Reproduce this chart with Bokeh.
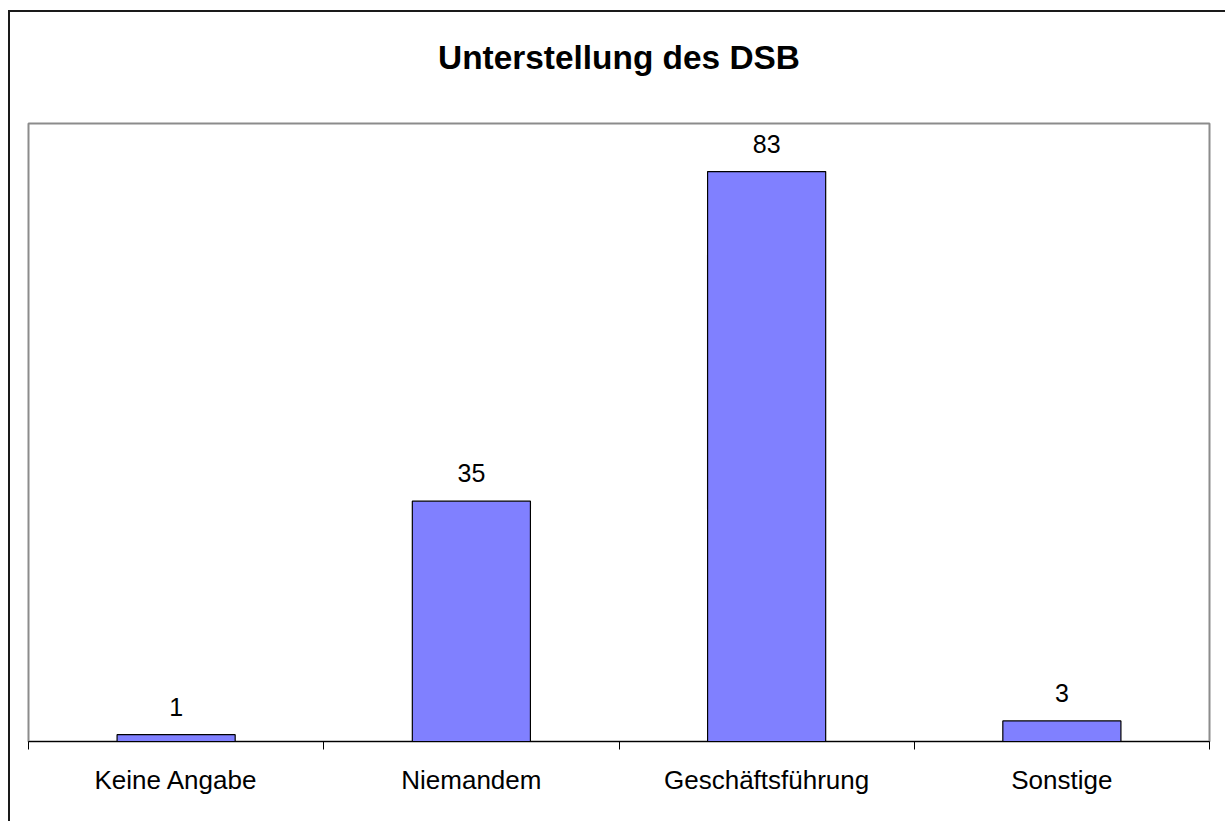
from bokeh.plotting import figure
from bokeh.models import Range1d, FixedTicker, ColumnDataSource, Title
from bokeh.core.properties import value
from bokeh.embed import file_html
from bokeh.resources import INLINE

categories = ["Keine Angabe", "Niemandem", "Geschäftsführung", "Sonstige"]
counts = [1, 35, 83, 3]
title_text = "Unterstellung des DSB"

centers = [i + 0.5 for i in range(len(categories))]
bounds = [float(i) for i in range(len(categories) + 1)]

src = ColumnDataSource(dict(x=centers, top=counts, lab=[str(v) for v in counts]))

p = figure(width=1217, height=811, output_backend="svg", toolbar_location=None,
           x_range=Range1d(0, len(categories)), y_range=Range1d(0, 90),
           y_axis_location=None, min_border_left=18, min_border_right=18,
           min_border_top=111, min_border_bottom=82, title=None)
p.styles = {"border-left": "2px solid #1a1a1a", "border-top": "2px solid #1a1a1a",
            "margin-left": "8px", "margin-top": "10px"}

# spacer between title and plot area
p.add_layout(Title(text=" ", text_font_size="20px", standoff=10), "above")
p.add_layout(Title(text=title_text, align="center", text_font="Liberation Sans",
                   text_font_size="33.4px", text_font_style="bold",
                   text_color="black", standoff=28), "above")

p.xgrid.visible = False
p.ygrid.visible = False
p.background_fill_color = "white"
p.border_fill_color = "white"
p.outline_line_color = "#8c8c8c"
p.outline_line_width = 2

ax = p.xaxis[0]
ax.ticker = FixedTicker(ticks=centers, minor_ticks=bounds)
ax.major_label_overrides = {c: name for c, name in zip(centers, categories)}
ax.major_tick_out = 0
ax.major_tick_in = 0
ax.minor_tick_out = 8
ax.minor_tick_in = 0
ax.minor_tick_line_color = "black"
ax.axis_line_color = "black"
ax.axis_line_width = 1
ax.major_label_text_font = "Liberation Sans"
ax.major_label_text_font_size = "26px"
ax.major_label_text_color = "black"
ax.major_label_standoff = 15

p.vbar(x="x", top="top", bottom=0, width=0.4, source=src,
       fill_color="#8080FF", line_color="black", line_width=1.2)

p.text(x="x", y="top", text="lab", source=src, text_align="center",
       text_baseline="alphabetic", y_offset=-28,
       text_font=value("Liberation Sans"), text_font_size="25px", text_color="black")

open("out.html", "w").write(file_html(p, INLINE))
